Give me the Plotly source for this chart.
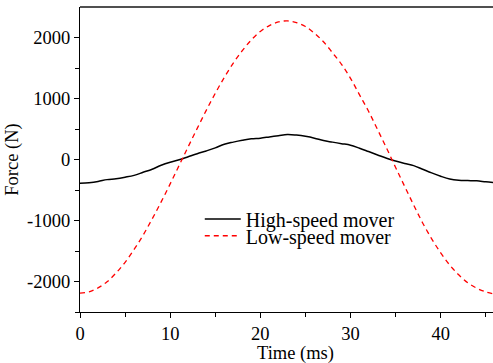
import plotly.graph_objects as go

t_high = [0, 1, 2, 3, 4, 5, 6, 7, 8, 9, 10, 11, 12, 13, 14, 15, 16, 17, 18, 19, 20, 21, 22, 23,
          24, 25, 26, 27, 28, 29, 30, 31, 32, 33, 34, 35, 36, 37, 38, 39, 40, 41, 42, 43, 44, 45, 45.8]
f_high = [-390, -380, -360, -330, -315, -290, -260, -210, -160, -95, -45, -5, 45, 95, 140, 190,
          250, 285, 315, 340, 350, 370, 390, 410, 400, 380, 350, 310, 285, 260, 235, 185, 130, 75,
          20, -25, -65, -100, -160, -220, -275, -320, -340, -345, -350, -365, -375]

t_low = [0, 1, 2, 3, 4, 5, 6, 7, 8, 9, 10, 11, 12, 13, 14, 15, 16, 17, 18, 19, 20, 21, 22, 23,
         24, 25, 26, 27, 28, 29, 30, 31, 32, 33, 34, 35, 36, 37, 38, 39, 40, 41, 42, 43, 44, 45, 45.8]
f_low = [-2190, -2170, -2105, -2005, -1860, -1685, -1475, -1240, -975, -695, -400, -95, 210, 510,
         805, 1085, 1345, 1580, 1785, 1960, 2100, 2195, 2255, 2272, 2245, 2180, 2070, 1930, 1750,
         1560, 1330, 1060, 790, 490, 185, -130, -440, -745, -1040, -1300, -1530, -1730, -1890,
         -2020, -2110, -2170, -2200]

names = ["High-speed mover", "Low-speed mover"]
x_title = "Time (ms)"
y_title = "Force (N)"

FONT = "Liberation Serif, Times New Roman, serif"
FS = 18.5
LFS = 20

fig = go.Figure()
fig.add_trace(go.Scatter(x=t_high, y=f_high, mode="lines", name=names[0], legend="legend",
                         line=dict(color="black", width=1.5, shape="spline")))
fig.add_trace(go.Scatter(x=t_low, y=f_low, mode="lines", name=names[1], legend="legend2",
                         line=dict(color="#ff0000", width=1.3, dash="5px,4px", shape="spline")))

leg_common = dict(xanchor="left", yanchor="top", bgcolor="rgba(0,0,0,0)",
                  font=dict(family=FONT, size=LFS, color="black"), itemwidth=36,
                  borderwidth=0)

fig.update_layout(
    width=493, height=363,
    margin=dict(l=80, r=0, t=7, b=51),
    paper_bgcolor="white", plot_bgcolor="white",
    font=dict(family=FONT, size=FS, color="black"),
    showlegend=True,
    legend=dict(x=0.29, y=0.369, **leg_common),
    legend2=dict(x=0.29, y=0.314, **leg_common),
    xaxis=dict(range=[0, 45.8], tickmode="array", tickvals=[0, 10, 20, 30, 40],
               showgrid=False, zeroline=False, showline=True, linecolor="black", linewidth=1.3,
               ticks="outside", ticklen=5, tickcolor="black", tickwidth=1.2,
               minor=dict(tickvals=[5, 15, 25, 35, 45], ticks="outside", ticklen=4,
                          tickcolor="black", tickwidth=1.2),
               tickfont=dict(family=FONT, size=FS)),
    yaxis=dict(range=[-2500, 2500], tickmode="array", tickvals=[-2000, -1000, 0, 1000, 2000],
               ticktext=["-2000", "-1000", "0", "1000", "2000"],
               showgrid=False, zeroline=False, showline=True, linecolor="black", linewidth=1.3,
               ticks="outside", ticklen=5, tickcolor="black", tickwidth=1.2,
               minor=dict(tickvals=[-2500, -1500, -500, 500, 1500], ticks="outside", ticklen=4,
                          tickcolor="black", tickwidth=1.2),
               tickfont=dict(family=FONT, size=FS),
               title=dict(text=y_title, standoff=3, font=dict(family=FONT, size=FS))),
)

# top frame line (dark grey)
fig.add_shape(type="line", xref="paper", yref="paper", x0=0, x1=1, y0=1, y1=1,
              line=dict(color="#505050", width=2))

fig.add_annotation(text=x_title, xref="paper", yref="paper", x=(295 - 80) / 413, y=-0.135,
                   xanchor="center", yanchor="middle", showarrow=False,
                   font=dict(family=FONT, size=FS))

fig.write_html("out.html")
